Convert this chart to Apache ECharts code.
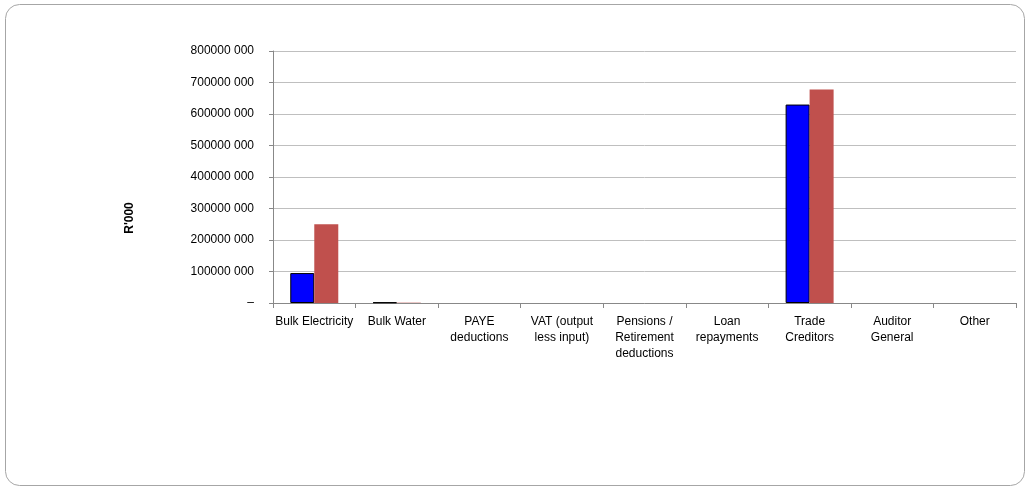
<!DOCTYPE html>
<html><head><meta charset="utf-8">
<script src="https://cdn.jsdelivr.net/npm/echarts@6/dist/echarts.min.js"></script>
<style>html,body{margin:0;padding:0;background:#fff}#c{width:1030px;height:488px}</style>
</head><body><div id="c"></div>
<script>
const categories = ["Bulk Electricity","Bulk Water","PAYE\ndeductions","VAT (output\nless input)","Pensions /\nRetirement\ndeductions","Loan\nrepayments","Trade\nCreditors","Auditor\nGeneral","Other"];
const seriesA = [95000000, 2000000, null, null, null, null, 630000000, null, null];
const seriesB = [250000000, 1000000, null, null, null, null, 678000000, null, null];
const yMax = 800000000;
const yInterval = 100000000;
const yAxisName = "R'000";
const font = "'Liberation Sans Narrow', 'Arial Narrow', 'Liberation Sans', Arial, sans-serif";

function fmt(v){
  if (v === 0) return '–';
  const s = String(v);
  return s.slice(0, s.length-3) + ' ' + s.slice(-3);
}

const chart = echarts.init(document.getElementById('c'));
chart.setOption({
  animation: false,
  grid: {left: 273, right: 14, top: 51, bottom: 185, containLabel: false},
  graphic: [{
    type: 'rect', shape: {x: 5.5, y: 4.5, width: 1019, height: 481, r: 14},
    style: {fill: 'none', stroke: '#a6a6a6', lineWidth: 1}, silent: true
  }, {
    type: 'text', x: 130, y: 218, rotation: Math.PI/2,
    style: {text: yAxisName, font: 'bold 12px ' + font, fill: '#000', align: 'center', verticalAlign: 'middle'},
    silent: true
  }],
  xAxis: {
    type: 'category', data: categories,
    axisLine: {lineStyle: {color: '#888'}},
    axisTick: {show: true, alignWithLabel: false, length: 5, lineStyle: {color: '#888'}},
    axisLabel: {color: '#000', fontSize: 12, fontFamily: font, lineHeight: 16, margin: 11, interval: 0}
  },
  yAxis: {
    type: 'value', min: 0, max: yMax, interval: yInterval,
    axisLine: {show: true, lineStyle: {color: '#888'}},
    axisTick: {show: true, length: 4, lineStyle: {color: '#888'}},
    axisLabel: {color: '#000', fontSize: 12, fontFamily: font, margin: 19, formatter: fmt},
    splitLine: {lineStyle: {color: '#bfbfbf'}}
  },
  series: [
    {type: 'bar', data: seriesA, barWidth: 24, barGap: '0%',
     itemStyle: {color: '#0000ff', borderColor: '#000', borderWidth: 1}},
    {type: 'bar', data: seriesB, barWidth: 24, barGap: '0%',
     itemStyle: {color: '#c0504d'}}
  ]
});
</script></body></html>
